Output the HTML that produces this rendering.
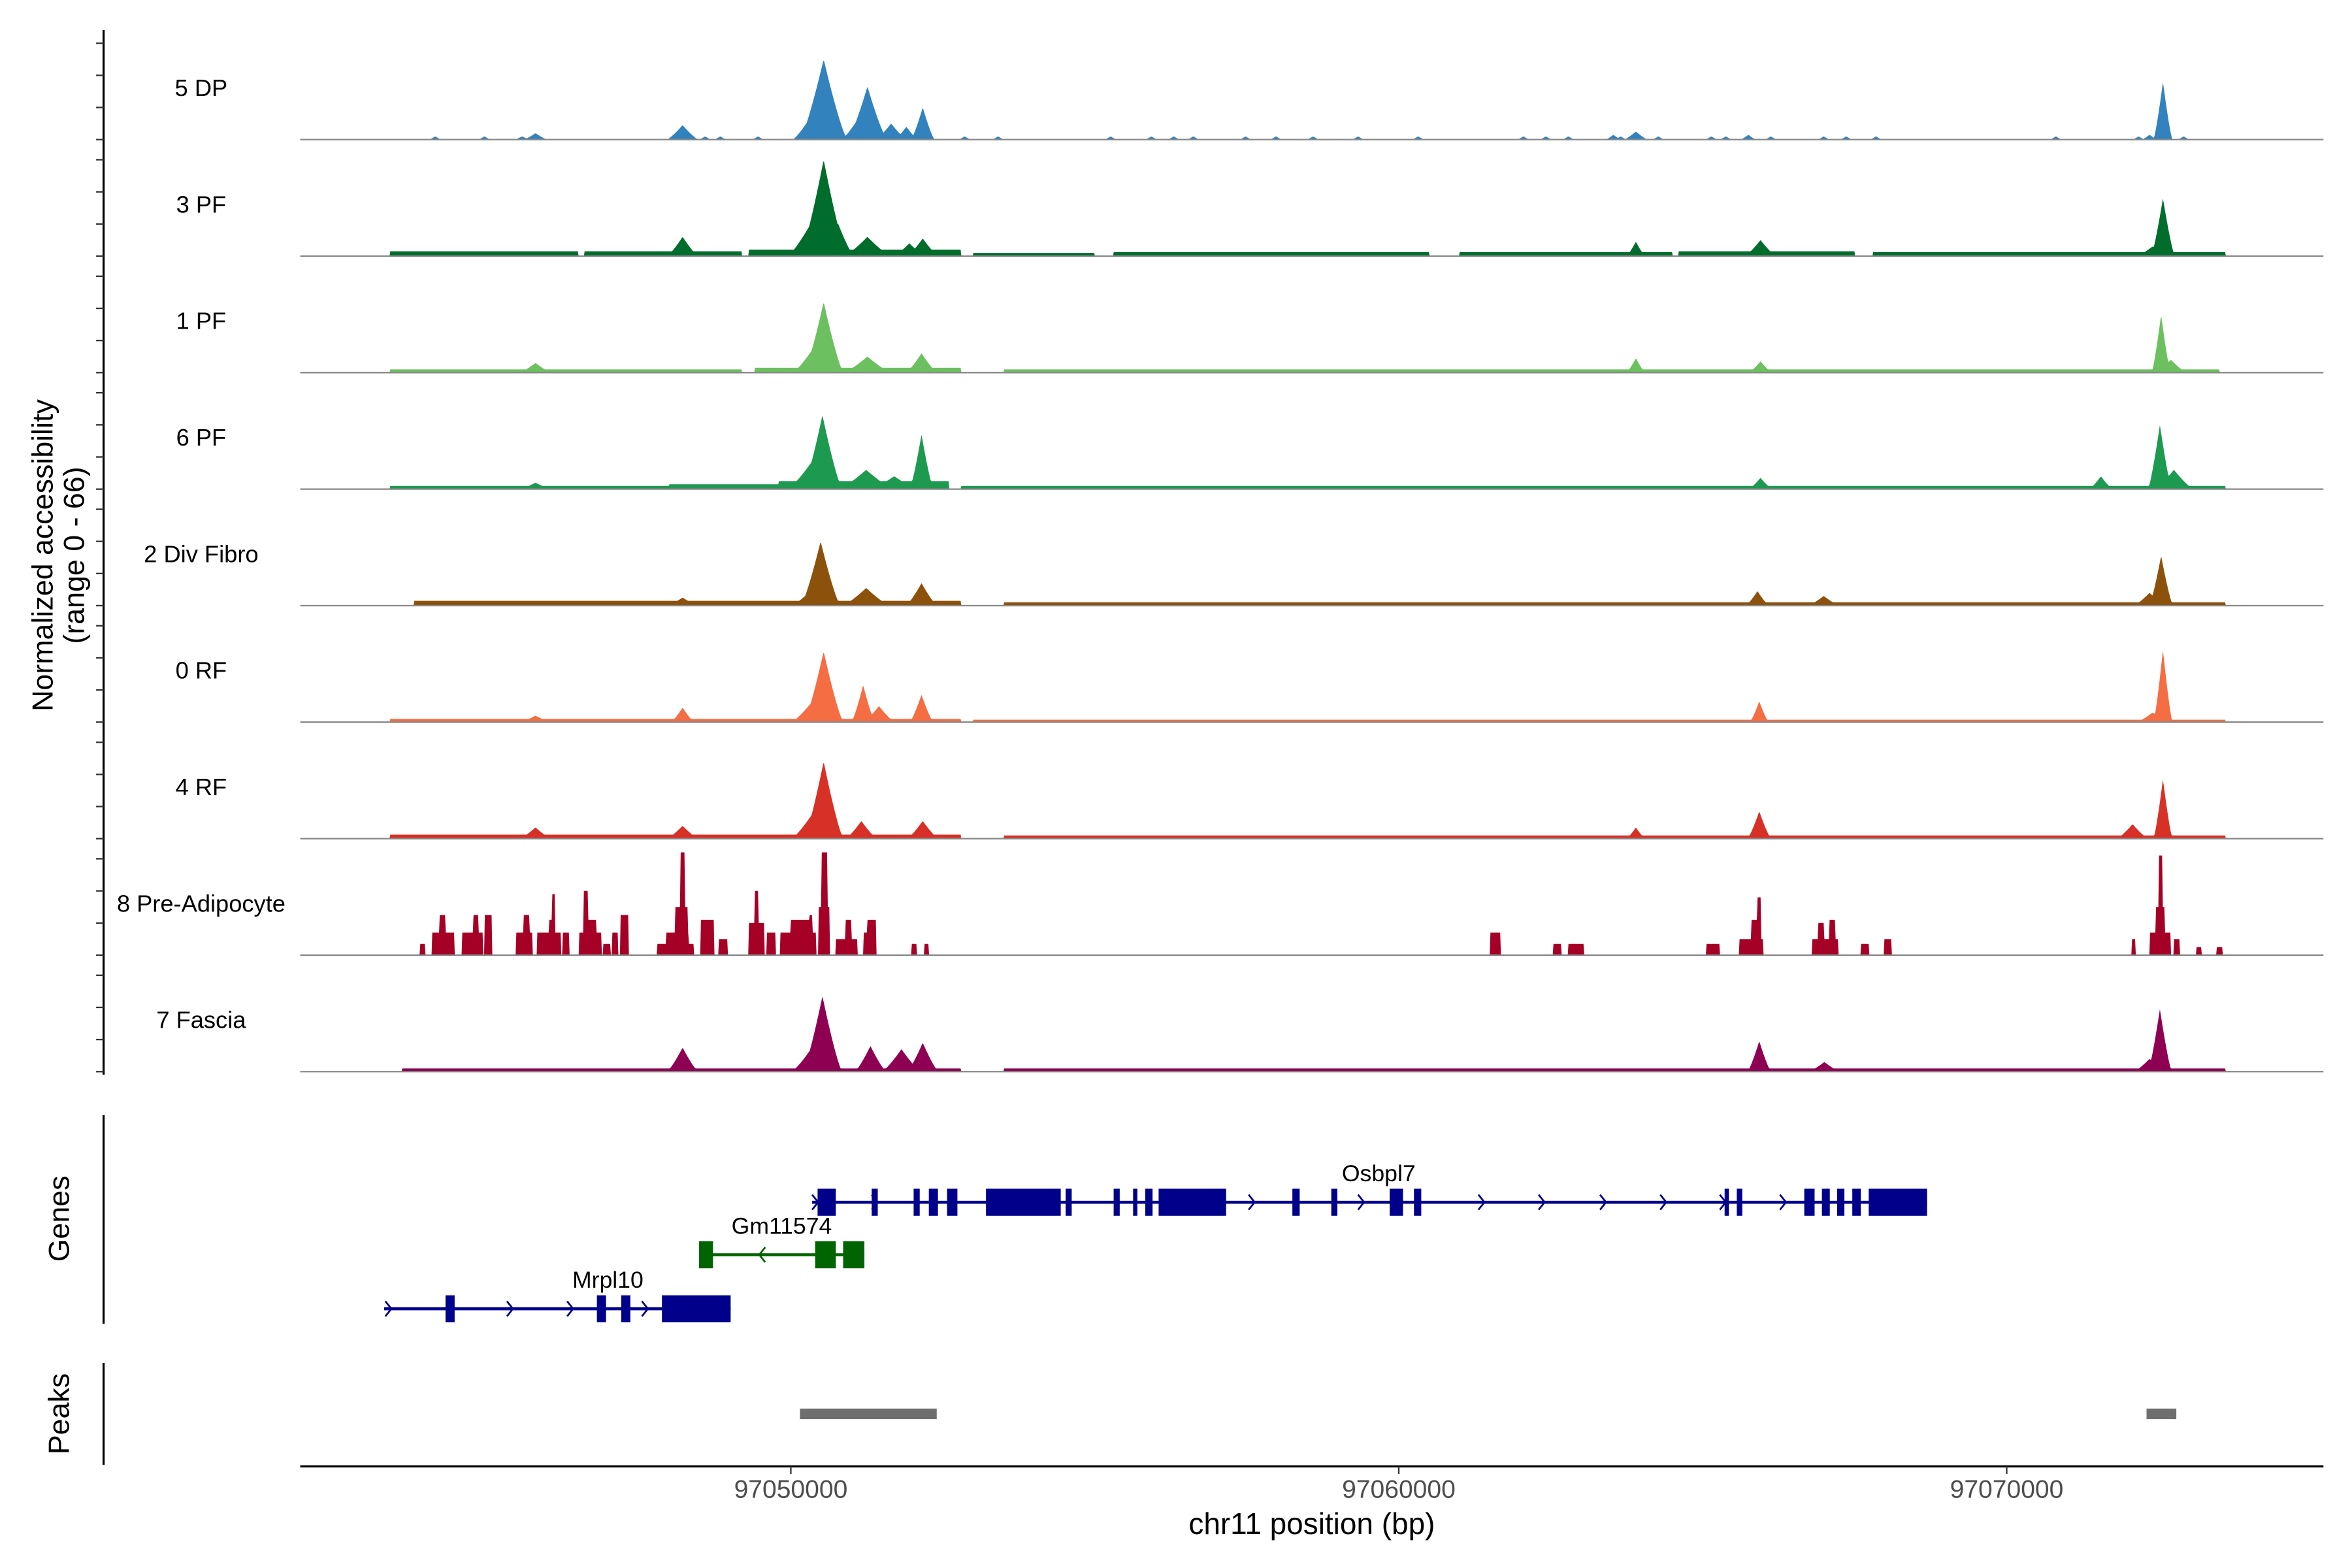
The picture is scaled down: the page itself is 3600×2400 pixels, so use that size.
<!DOCTYPE html>
<html><head><meta charset="utf-8"><style>
html,body{margin:0;padding:0;background:#fff;}
svg{display:block;font-family:"Liberation Sans",Arial,sans-serif;}
</style></head><body>
<svg id="chart" xmlns="http://www.w3.org/2000/svg" width="3600" height="2400" viewBox="0 0 1567 1044.7">
<rect x="0" y="0" width="1567" height="1045" fill="#fff"/>
<g id="tracks"></g>
<g id="yaxis"></g>
<text transform="translate(35,370) rotate(-90)" text-anchor="middle" font-size="19.5" fill="#000">Normalized accessibility</text>
<text transform="translate(56,370) rotate(-90)" text-anchor="middle" font-size="19.5" fill="#000">(range 0 - 66)</text>
<g id="genes"></g>
<line x1="69" y1="743" x2="69" y2="882" stroke="#000" stroke-width="1.4"/>
<text transform="translate(46,812) rotate(-90)" text-anchor="middle" font-size="19.5">Genes</text>
<line x1="69" y1="908" x2="69" y2="976" stroke="#000" stroke-width="1.4"/>
<text transform="translate(46,942) rotate(-90)" text-anchor="middle" font-size="19.5">Peaks</text>
<g id="peaks"></g>
<g id="xaxis"></g>
<text x="874" y="1022" text-anchor="middle" font-size="20">chr11 position (bp)</text>
</svg>
<script>
// ---- data (positions in kb on chr11 offset by 97,000 kb; heights in normalized units) ----
const trackNames = ["5 DP","3 PF","1 PF","6 PF","2 Div Fibro","0 RF","4 RF","8 Pre-Adipocyte","7 Fascia"];
const trackColors = ["#3182BD","#006D2C","#6CC05F","#1E9950","#8C510A","#F46D43","#D73027","#A50026","#8E0152"];
// peaks: [center kb, height, half-width kb]
const peaksDP = [[50.54,50,0.3],[50.42,20,0.3],[51.26,33,0.25],[51.09,12,0.2],[51.65,10,0.2],[51.90,8,0.15],[52.17,20,0.15],[50.27,8,0.15],[48.22,9,0.2],[45.80,4,0.15],[45.58,2,0.1],[72.57,36,0.12],[72.35,3,0.1],[63.90,5,0.15],
 [44.15,2,0.08],[44.96,2,0.08],[48.59,2,0.08],[48.84,2,0.08],[49.46,2,0.08],[52.86,2,0.08],[53.41,2,0.08],[55.26,2,0.08],[55.93,2,0.08],[56.30,2,0.08],[56.62,2,0.08],[57.48,2,0.08],[57.98,2,0.08],[58.59,2,0.08],[59.33,2,0.08],[60.32,2,0.08],[62.05,2,0.08],[62.42,2,0.08],[62.79,2,0.08],[63.53,3,0.1],[63.65,2,0.08],[64.27,2,0.08],[65.14,2,0.08],[65.38,2,0.08],[65.75,3,0.1],[66.12,2,0.08],[66.99,2,0.08],[67.36,2,0.08],[67.85,2,0.08],[70.81,2,0.08],[72.17,2,0.08],[72.91,2,0.08]];
const peaksPF3 = [[50.54,60,0.3],[50.40,25,0.35],[50.78,20,0.2],[51.26,12,0.3],[52.17,11,0.2],[51.95,8,0.2],[48.22,12,0.2],[63.90,9,0.12],[65.95,10,0.2],[72.57,36,0.15],[72.40,6,0.2]];
const grassPF3 = [[43.4,46.5,3],[46.6,49.2,3],[49.3,52.8,4],[53,55,2],[55.3,60.5,2.5],[61,64.5,2.5],[64.6,67.5,3],[67.8,73.6,2.5]];
const peaksPF1 = [[50.54,44,0.25],[50.42,18,0.3],[51.26,10,0.3],[52.15,12,0.2],[45.80,6,0.2],[63.90,9,0.12],[65.95,7,0.15],[72.54,36,0.12],[72.70,8,0.2]];
const grassPF1 = [[43.4,49.2,2],[49.4,52.8,3],[53.5,73.5,2]];
const peaksPF6 = [[50.52,46,0.25],[50.40,20,0.35],[51.24,12,0.35],[51.70,8,0.3],[52.15,34,0.15],[72.52,40,0.15],[72.75,12,0.25],[71.55,8,0.15],[65.95,7,0.15],[45.80,4,0.2]];
const grassPF6 = [[43.4,48,2],[48,49.8,3],[49.8,52.6,5],[52.8,73.6,2]];
const peaksDiv = [[50.49,40,0.25],[50.40,12,0.3],[51.24,11,0.3],[52.15,14,0.2],[72.54,31,0.15],[72.35,8,0.2],[65.90,9,0.15],[66.99,6,0.2],[48.22,5,0.2]];
const grassDiv = [[43.8,52.8,3],[53.5,73.6,2]];
const peaksRF0 = [[50.54,44,0.25],[50.40,15,0.3],[51.19,23,0.15],[51.45,10,0.2],[52.15,17,0.15],[48.22,9,0.15],[45.80,4,0.2],[65.93,13,0.12],[72.57,45,0.12],[72.40,6,0.2]];
const grassRF0 = [[43.4,52.8,2],[53,73.6,1.5]];
const peaksRF4 = [[50.54,48,0.25],[50.40,18,0.3],[51.16,11,0.2],[52.17,11,0.2],[48.22,8,0.2],[45.80,7,0.2],[63.90,7,0.12],[65.93,17,0.15],[72.57,37,0.12],[72.07,9,0.2]];
const grassRF4 = [[43.4,52.8,2.5],[53.5,73.6,2]];
const peaksFas = [[50.52,47,0.25],[50.40,18,0.3],[51.31,16,0.2],[51.82,14,0.25],[52.17,18,0.2],[48.22,15,0.2],[65.93,19,0.15],[72.52,39,0.15],[72.35,8,0.2],[67.00,6,0.2]];
const grassFas = [[43.6,52.8,2],[53.5,73.6,2]];
// pre-adipocyte blocks: [start kb, end kb, height]
const blocksPA = [[43.90,43.98,7],[44.10,44.47,14],[44.22,44.32,25],[44.59,44.94,14],[44.77,44.86,25],[44.96,45.09,25],[45.48,45.75,14],[45.60,45.70,25],[45.83,46.22,14],[46.02,46.10,22],[46.07,46.12,38],[46.25,46.35,14],[46.52,46.89,14],[46.59,46.66,40],[46.66,46.80,22],[46.91,47.04,7],[47.06,47.16,14],[47.19,47.33,25],[47.80,48.40,7],[47.95,48.32,14],[48.10,48.30,30],[48.18,48.26,64],[48.52,48.74,22],[48.81,48.96,10],[49.31,49.56,20],[49.40,49.47,40],[49.60,49.75,14],[49.83,50.42,14],[50.00,50.30,22],[50.30,50.36,25],[50.45,50.64,30],[50.50,50.60,64],[50.74,51.09,10],[50.90,51.00,22],[51.19,51.41,14],[51.25,51.40,22],[51.98,52.07,7],[52.20,52.27,7],[61.50,61.68,14],[62.54,62.67,7],[62.79,63.04,7],[65.06,65.28,7],[65.60,66.00,10],[65.80,65.95,22],[65.90,65.96,36],[66.80,67.23,10],[66.90,67.00,20],[67.08,67.18,22],[67.60,67.73,7],[67.98,68.10,10],[72.05,72.12,10],[72.35,72.70,14],[72.45,72.60,30],[72.50,72.56,62],[72.75,72.85,10],[73.12,73.20,5],[73.45,73.55,5]];
const trackPeaks = [peaksDP,peaksPF3,peaksPF1,peaksPF6,peaksDiv,peaksRF0,peaksRF4,null,peaksFas];
const trackGrass = [[],grassPF3,grassPF1,grassPF6,grassDiv,grassRF0,grassRF4,[],grassFas];
const yTicks = [0,20,40,60];
const xTicks = [97050000,97060000,97070000];
// genes (kb)
const osbpl7Line = [50.35,68.69];
const osbpl7Exons = [[50.44,50.74],[51.33,51.43],[52.02,52.12],[52.27,52.42],[52.57,52.74],[53.21,54.44],[54.52,54.62],[55.31,55.41],[55.63,55.70],[55.83,55.95],[56.05,57.16],[58.25,58.37],[58.89,58.99],[59.85,60.07],[60.25,60.37],[65.36,65.43],[65.56,65.65],[66.67,66.84],[66.96,67.09],[67.21,67.33],[67.46,67.60],[67.73,68.69]];
const osbpl7Arrows = [50.40,51.38,57.58,59.38,61.36,62.35,63.36,64.35,65.33,66.32];
const gmLine = [48.49,51.21];
const gmExons = [[48.49,48.72],[50.40,50.74],[50.86,51.21]];
const gmArrows = [49.53];
const mrplLine = [43.31,49.01];
const mrplExons = [[44.32,44.47],[46.81,46.96],[47.21,47.36],[47.88,49.01]];
const mrplArrows = [43.38,45.38,46.37,47.60];
const peakRegions = [[50.15,52.40],[72.30,72.79]];

// ---- scales ----
const X0=200, X1=1548, KB0=41.93, KB1=75.21;
const xs = kb => X0 + (kb-KB0)/(KB1-KB0)*(X1-X0);
const baseY = i => 93 + i*77.625;
const ys = v => v*1.07;
const NS="http://www.w3.org/2000/svg";
function mk(tag, attrs, parent){const e=document.createElementNS(NS,tag);for(const k in attrs)e.setAttribute(k,attrs[k]);parent.appendChild(e);return e;}

const tracksG=document.getElementById('tracks');
function valueAt(i,kb){
  let v=0;
  if(trackPeaks[i]===null){
    for(const b of blocksPA){ if(kb>=b[0]&&kb<=b[1]) v=Math.max(v,b[2]); }
    return v;
  }
  for(const p of trackPeaks[i]){const w=p[2]*1.3;const d=Math.abs(kb-p[0]); if(d<w){const t=1-d/w; v=Math.max(v,p[1]*Math.pow(t,1.25));} }
  for(const g of trackGrass[i]){ if(kb>=g[0]&&kb<=g[1]) v=Math.max(v,g[2]); }
  return v;
}
for(let i=0;i<trackNames.length;i++){
  const by=baseY(i);
  const g=mk('g',{},tracksG);
  
  
  let d='M'+X0+' '+by;
  for(let px=X0;px<=X1;px+=0.5){
    const kb=KB0+(px-X0)/(X1-X0)*(KB1-KB0);
    d+=' L'+px.toFixed(1)+' '+(by-ys(valueAt(i,kb))).toFixed(2);
  }
  d+=' L'+X1+' '+by+' Z';
  const a=mk('path',{d:d,fill:trackColors[i],stroke:'none'},g);
  
  
  const bl=mk('line',{x1:X0,x2:X1,y1:by,y2:by,stroke:'#888',"stroke-width":1},g);
  
  
  const t=mk('text',{x:134,y:by-29,"text-anchor":"middle","font-size":15.8,fill:'#000'},g);
  
  
  t.textContent=trackNames[i];
}
// y axis
const ya=document.getElementById('yaxis');
const al=mk('line',{x1:69,x2:69,y1:20,y2:716,stroke:'#000',"stroke-width":1.4},ya);


for(let i=0;i<trackNames.length;i++){
  for(const tv of yTicks){
    const yy=baseY(i)-ys(tv);
    const tk=mk('line',{x1:64,x2:69,y1:yy,y2:yy,stroke:'#333',"stroke-width":1},ya);
    
    
  }
}
// genes
const gg=document.getElementById('genes');
function drawGene(name,line,exons,arrows,y,color,dir,labelKb,labelY){
  const g=mk('g',{},gg);
  
  
  const l=mk('line',{x1:xs(line[0]),x2:xs(line[1]),y1:y,y2:y,stroke:color,"stroke-width":2},g);
  
  
  for(const a of arrows){
    const ax=xs(a);
    const p=mk('polyline',{points:dir>0?`${ax-2},${y-5} ${ax+2},${y} ${ax-2},${y+5}`:`${ax+2},${y-5} ${ax-2},${y} ${ax+2},${y+5}`,fill:'none',stroke:color,"stroke-width":1.2},g);
    
    
  }
  for(const e of exons){
    const r=mk('rect',{x:xs(e[0]),y:y-9,width:Math.max(2.5,xs(e[1])-xs(e[0])),height:18,fill:color},g);
    
    
  }
  const t=mk('text',{x:xs(labelKb),y:labelY,"text-anchor":"middle","font-size":15.5,fill:'#000'},g);
  
  
  t.textContent=name;
}
drawGene('Osbpl7',osbpl7Line,osbpl7Exons,osbpl7Arrows,801,'#00008B',1,59.67,787);
drawGene('Gm11574',gmLine,gmExons,gmArrows,836,'#006400',-1,49.85,822);
drawGene('Mrpl10',mrplLine,mrplExons,mrplArrows,872,'#00008B',1,46.99,858);
// peaks
const pg=document.getElementById('peaks');
for(const p of peakRegions){
  const r=mk('rect',{x:xs(p[0]),y:938.5,width:xs(p[1])-xs(p[0]),height:7,fill:'#6E6E6E'},pg);
  
  
}
// x axis
const xa=document.getElementById('xaxis');
const xl=mk('line',{x1:X0,x2:X1,y1:977,y2:977,stroke:'#000',"stroke-width":1.4},xa);


for(const tv of xTicks){
  const xx=xs(tv/1000-97000);
  const tk=mk('line',{x1:xx,x2:xx,y1:977,y2:982,stroke:'#333',"stroke-width":1},xa);
  
  
  const t=mk('text',{x:xx,y:998,"text-anchor":"middle","font-size":17,fill:'#4D4D4D'},xa);
  
  
  t.textContent=String(tv);
}
</script>
</body></html>
